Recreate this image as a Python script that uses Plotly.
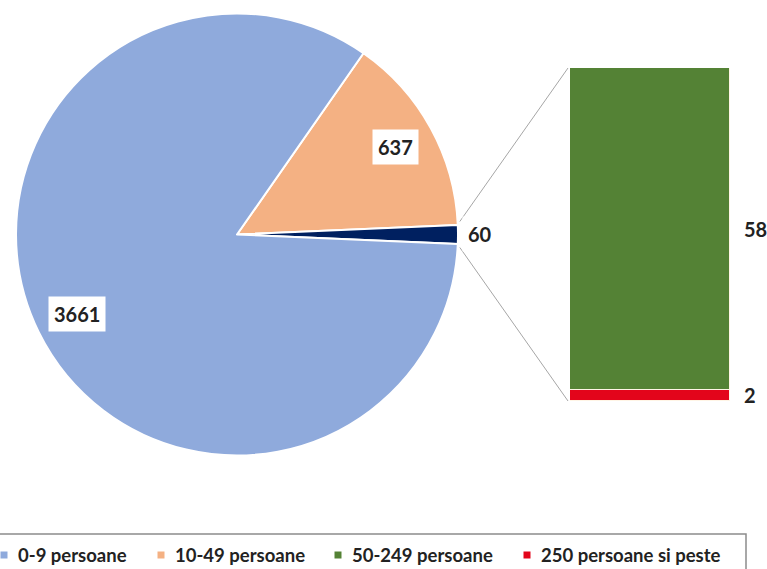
import math
import plotly.graph_objects as go

# ---- data ----
pie_labels = ["0-9 persoane", "10-49 persoane", "Altele"]
pie_values = [3661, 637, 60]
bar_labels = ["250 persoane si peste", "50-249 persoane"]
bar_values = [2, 58]
legend_labels = ["0-9 persoane", "10-49 persoane", "50-249 persoane", "250 persoane si peste"]

pie_colors = ["#8FAADC", "#F4B183", "#002060"]
bar_colors = ["#E3051B", "#548235"]
legend_colors = ["#8FAADC", "#F4B183", "#548235", "#E3051B"]

# ---- layout constants (pixels) ----
W, H = 767, 569
cx, cy, R = 237, 234.5, 221          # pie centre / radius
legend_text_x = [16, 173, 350, 539]  # legend label left edges
legend_y = 555
FONT = "Lato"
TXT = "#222222"


def P(x, y):
    return x / W, 1 - y / H


total = sum(pie_values)
other = pie_values[-1]
half_deg = 180.0 * other / total
span_deg = [360.0 * v / total for v in pie_values]

# Excel-like placement: "Altele" slice centred on 3 o'clock, 10-49 above it,
# 0-9 covering the rest (drawn clockwise starting from the top of 10-49)
order = [1, 2, 0]
rotation = 90 - half_deg - span_deg[1]

fig = go.Figure()

fig.add_trace(go.Pie(
    labels=[pie_labels[i] for i in order],
    values=[pie_values[i] for i in order],
    sort=False, direction="clockwise", rotation=rotation,
    marker=dict(colors=[pie_colors[i] for i in order],
                line=dict(color="white", width=2)),
    textinfo="none", hoverinfo="label+value", showlegend=False,
    domain=dict(x=[(cx - R) / W, (cx + R) / W],
                y=[(H - cy - R) / H, (H - cy + R) / H]),
))

bar_dom_x = [570 / W, 730 / W]
bar_dom_y = [1 - 401 / H, 1 - 68 / H]
for lab, val, col in zip(bar_labels, bar_values, bar_colors):
    fig.add_trace(go.Bar(
        x=[0], y=[val], name=lab, width=1,
        marker=dict(color=col, line=dict(color="#FFF5E6", width=1)),
        showlegend=False, xaxis="x", yaxis="y",
    ))

annotations = []

# pie data labels (math angles, counterclockwise from 3 o'clock)
mid = {
    2: 0.0,
    1: half_deg + span_deg[1] / 2,
    0: half_deg + span_deg[1] + span_deg[0] / 2,
}
for i, rf in [(0, 0.81), (1, 0.82), (2, 1.10)]:
    a = math.radians(mid[i])
    x, y = P(cx + rf * R * math.cos(a), cy - rf * R * math.sin(a))
    annotations.append(dict(
        x=x, y=y, xref="paper", yref="paper", xanchor="center", yanchor="middle",
        text=f"<b>{pie_values[i]}</b>",
        showarrow=False, bgcolor="white", borderpad=5,
        font=dict(family=FONT, size=20, color=TXT),
    ))

# bar data labels
cum = 0
for v in bar_values:
    annotations.append(dict(
        x=bar_dom_x[1] + 12 / W, xref="paper", y=cum + v / 2, yref="y",
        xanchor="left", yanchor="middle", text=f"<b>{v}</b>", showarrow=False,
        bgcolor="white", borderpad=1,
        font=dict(family=FONT, size=20, color=TXT),
    ))
    cum += v

# series lines from pie slice edges to bar corners
shapes = []
for sgn, by in [(1, bar_dom_y[1]), (-1, bar_dom_y[0])]:
    a = math.radians(sgn * half_deg * 1.35)
    x0, y0 = P(cx + 1.01 * R * math.cos(a), cy - 1.01 * R * math.sin(a))
    shapes.append(dict(type="line", xref="paper", yref="paper",
                       x0=x0, y0=y0, x1=bar_dom_x[0] - 2 / W, y1=by,
                       line=dict(color="#A6A6A6", width=1)))

# legend (box, colour keys, labels)
bx0, by0 = P(-2, 534)
bx1, by1 = P(746, 575)
shapes.append(dict(type="rect", xref="paper", yref="paper",
                   x0=bx0, y0=by1, x1=bx1, y1=by0,
                   line=dict(color="#8C8C8C", width=1.5), fillcolor="rgba(0,0,0,0)"))
for lab, col, tx in zip(legend_labels, legend_colors, legend_text_x):
    mx = tx - 12
    sx0, sy0 = P(mx - 3.5, legend_y - 3.5)
    sx1, sy1 = P(mx + 3.5, legend_y + 3.5)
    shapes.append(dict(type="rect", xref="paper", yref="paper",
                       x0=sx0, y0=sy1, x1=sx1, y1=sy0,
                       line=dict(width=0), fillcolor=col))
    lx, ly = P(tx, legend_y)
    annotations.append(dict(
        x=lx, y=ly, xref="paper", yref="paper", xanchor="left", yanchor="middle",
        text=f"<b>{lab}</b>", showarrow=False,
        font=dict(family=FONT, size=18.5, color=TXT),
    ))

fig.update_layout(
    width=W, height=H,
    margin=dict(l=0, r=0, t=0, b=0),
    paper_bgcolor="white", plot_bgcolor="white",
    barmode="stack", bargap=0,
    xaxis=dict(domain=bar_dom_x, range=[-0.5, 0.5], visible=False, fixedrange=True),
    yaxis=dict(domain=bar_dom_y, range=[0, sum(bar_values)], visible=False, fixedrange=True),
    showlegend=False,
    annotations=annotations, shapes=shapes,
)

fig.write_html(
    "out.html",
    config={"displayModeBar": False},
    post_script="document.body.style.margin='0px';document.body.style.overflow='hidden';",
)
